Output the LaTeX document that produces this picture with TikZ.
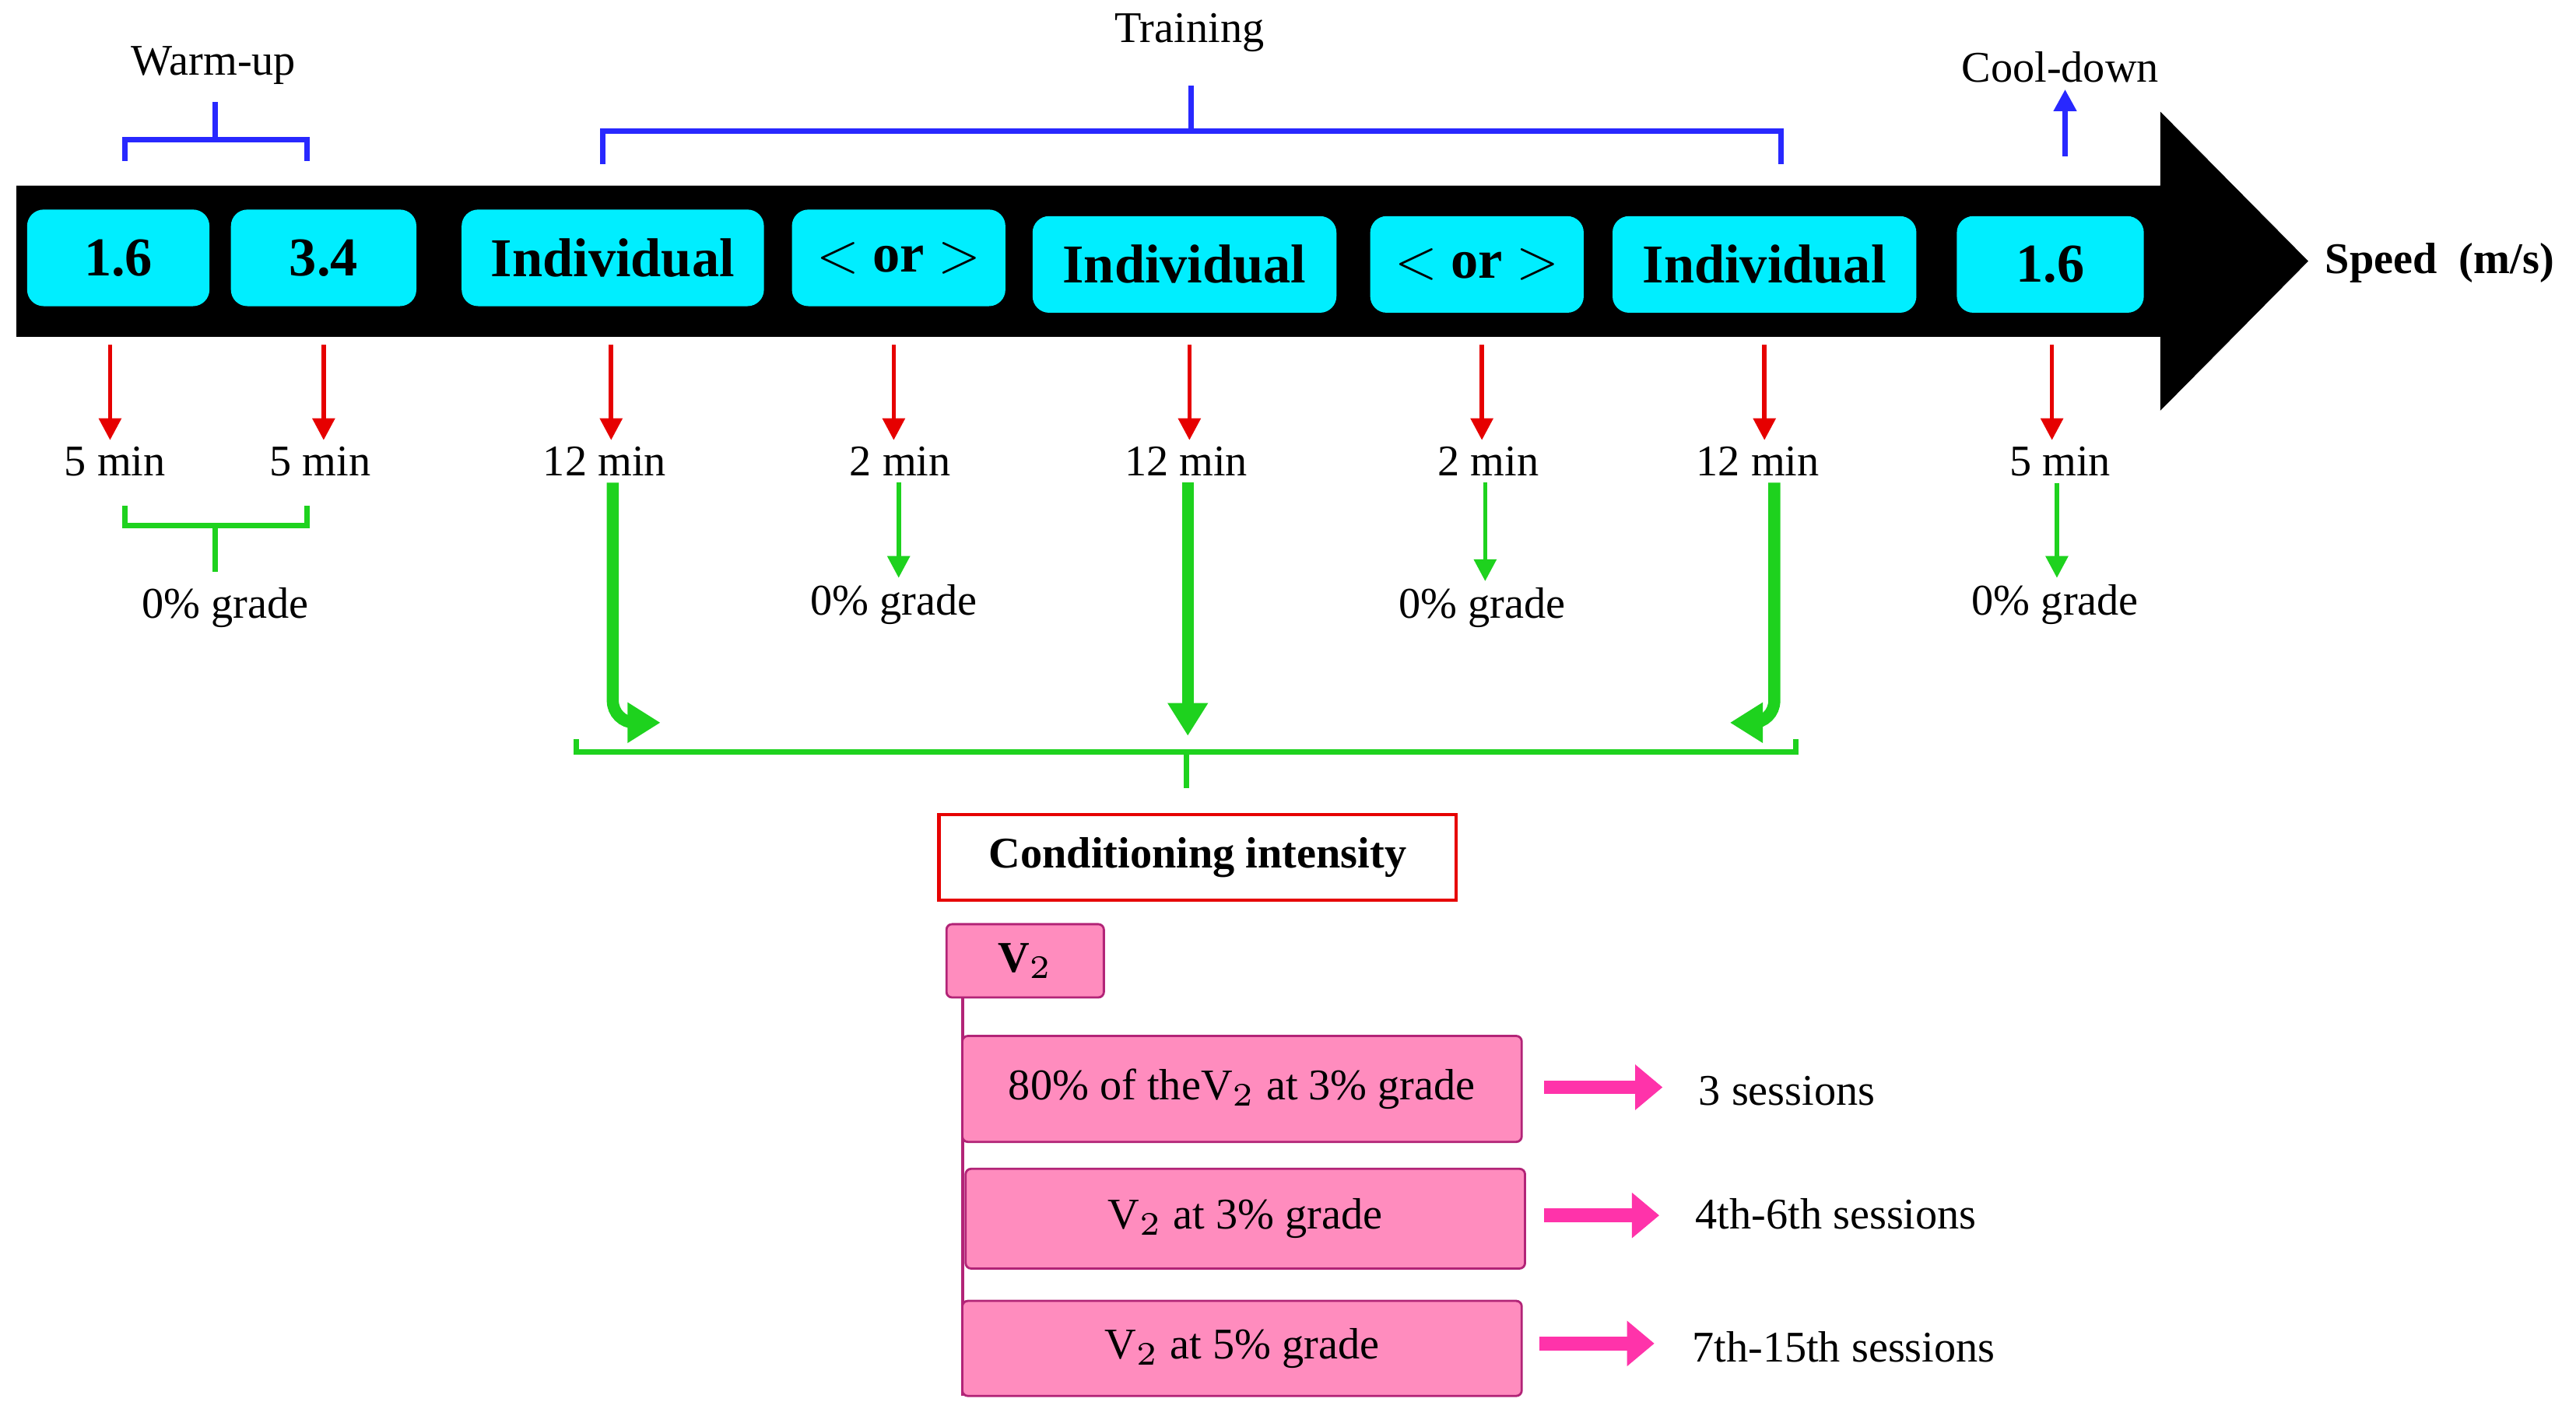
\documentclass[tikz,border=0pt]{standalone}
\usepackage{fontspec}
\setmainfont{Liberation Serif}
\usetikzlibrary{positioning, arrows.meta}
\definecolor{boxcyan}{RGB}{0,238,255}
\definecolor{boxpink}{RGB}{255,140,190}
\definecolor{arrpink}{RGB}{255,51,170}
\definecolor{brblue}{RGB}{40,40,255}
\definecolor{grgreen}{RGB}{30,210,30}
\definecolor{rdred}{RGB}{230,0,0}
\tikzset{
  speed/.style={draw=none, fill=boxcyan, rounded corners=3pt, font=\bfseries, minimum height=0.62cm, inner sep=0pt},
  lbl/.style={inner sep=1pt},
  redarr/.style={draw=rdred, line width=0.8pt, -{Triangle[length=4pt,width=4pt]}},
  grnarr/.style={draw=grgreen, line width=0.8pt, -{Triangle[length=4pt,width=4pt]}},
  thickarr/.style={draw=grgreen, line width=2.2pt, -{Triangle[length=6pt,width=7pt]}},
  pinkbox/.style={draw=arrpink!70!black, fill=boxpink, rounded corners=1pt, minimum width=3.59cm, inner sep=0pt},
  pinkarr/.style={draw=arrpink, line width=2.5pt, -{Triangle[length=5pt,width=8pt]}},
}
\begin{document}
\begin{tikzpicture}[x=0.01055cm, y=-0.01055cm, font=\fontsize{8}{9}\selectfont]
\useasboundingbox (0,0) rectangle (1568,866);
% timeline
\fill (10,113) -- (1315,113) -- (1315,68) -- (1405,159) -- (1315,250) -- (1315,205) -- (10,205) -- cycle;
\node[font=\fontsize{8}{9}\selectfont\bfseries] (speed) at (1485,160) {Speed\ \ (m/s)};

\node[speed, minimum width=1.17cm] (s1) at (72,157) {1.6};
\node[speed, minimum width=1.19cm] (s2) at (197,157) {3.4};
\node[speed, minimum width=1.94cm] (s3) at (373,157) {Individual};
\node[speed, minimum width=1.37cm] (s4) at (547,157) {$<$ or $>$};
\node[speed, minimum width=1.95cm] (s5) at (721,161) {Individual};
\node[speed, minimum width=1.37cm] (s6) at (899,161) {$<$ or $>$};
\node[speed, minimum width=1.95cm] (s7) at (1074,161) {Individual};
\node[speed, minimum width=1.2cm] (s8) at (1248,161) {1.6};

% braces above
\draw[brblue, line width=1pt] (76,98) -- (76,85) -- (187,85) -- (187,98) (131,85) -- (131,62);
\node[lbl] (warm) at (130,40) {Warm-up};
\draw[brblue, line width=1pt] (367,100) -- (367,80) -- (1084,80) -- (1084,100) (725,80) -- (725,52);
\node[lbl] (train) at (724,20) {Training};
\node[lbl] (cool) at (1254,41) {Cool-down};
\coordinate (c0) at (1257,95);
\draw[brblue, line width=1pt, -{Triangle[length=4pt,width=4pt]}] (c0) -- (cool.south -| c0);

% durations
\foreach \x/\lx/\t/\n in {67/70/5 min/1, 197/195/5 min/2, 372/368/12 min/3, 544/548/2 min/4, 724/722/12 min/5, 902/906/2 min/6, 1074/1070/12 min/7, 1249/1254/5 min/8}{
  \node[lbl] (d\n) at (\lx,281) {\t};
  \coordinate (r\n) at (\x,210);
  \draw[redarr] (r\n) -- (\x,268);
}

% grades
\draw[grgreen, line width=1pt] (76,308) -- (76,320) -- (187,320) -- (187,308) (131,320) -- (131,348);
\node[lbl] (g1) at (137,370) {0\% grade};
\node[lbl] (g2) at (544,368) {0\% grade};
\node[lbl] (g3) at (902,370) {0\% grade};
\node[lbl] (g4) at (1251,368) {0\% grade};
\draw[grnarr] (d4.south -| 547,0) -- (g2.north -| 547,0);
\draw[grnarr] (d6.south -| 904,0) -- (g3.north -| 904,0);
\draw[grnarr] (d8.south -| 1252,0) -- (g4.north -| 1252,0);

% thick arrows
\draw[thickarr, rounded corners=4pt] (d3.south -| 373,0) -- (373,440) -- (402,440);
\draw[thickarr] (d5.south -| 723,0) -- (723,448);
\draw[thickarr, rounded corners=4pt] (d7.south -| 1080,0) -- (1080,440) -- (1053,440);
\draw[grgreen, line width=1pt] (351,450) -- (351,458) -- (1093,458) -- (1093,450) (722,458) -- (722,480);

% conditioning
\node[draw=rdred, line width=0.6pt, font=\fontsize{8}{9}\selectfont\bfseries, minimum width=3.32cm, minimum height=0.55cm] (cond) at (729,522) {Conditioning intensity};
\node[draw=arrpink!70!black, fill=boxpink, rounded corners=1pt, font=\fontsize{8}{9}\selectfont\bfseries, minimum width=1.01cm, minimum height=0.47cm, inner sep=0pt] (v2) at (624,585) {V$_2$};
\draw[arrpink!70!black, line width=0.6pt] (586,607) -- (586,850);

\node[pinkbox, minimum height=0.68cm] (p1) at (756,663) {80\% of theV$_2$ at 3\% grade};
\node[pinkbox, minimum height=0.64cm] (p2) at (758,742) {V$_2$ at 3\% grade};
\node[pinkbox, minimum height=0.61cm] (p3) at (756,821) {V$_2$ at 5\% grade};

\node[lbl, anchor=west] (n1) at (1030,664) {3 sessions};
\node[lbl, anchor=west] (n2) at (1028,739) {4th-6th sessions};
\node[lbl, anchor=west] (n3) at (1026,820) {7th-15th sessions};
\draw[pinkarr] (940,662) -- (1012,662);
\draw[pinkarr] (940,740) -- (1010,740);
\draw[pinkarr] (937,818) -- (1007,818);
\end{tikzpicture}
\end{document}
